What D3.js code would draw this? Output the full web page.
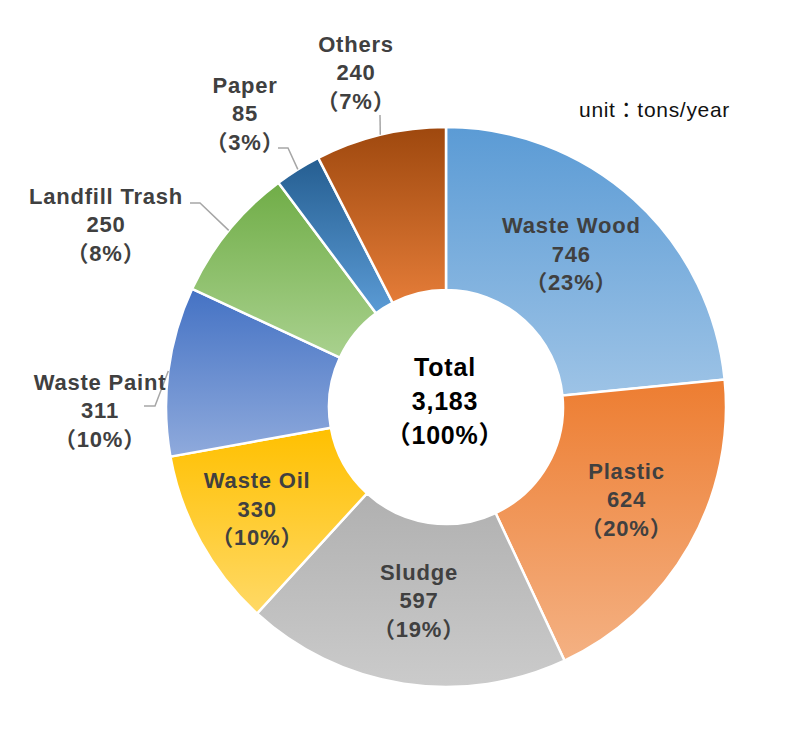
<!DOCTYPE html>
<html lang="en">
<head>
  <meta charset="utf-8" />
  <title>Waste by Type - Donut</title>
  <style>
    body {
      margin: 0;
      background: #ffffff;
    }
    svg {
      display: block;
    }
    .slice {
      stroke: #ffffff;
      stroke-width: 2.5px;
    }
    .leader {
      fill: none;
      stroke: #a6a6a6;
      stroke-width: 1.5px;
    }
    .label text {
      font-family: 'Liberation Sans', Arial, 'Noto Sans CJK JP', sans-serif;
      font-size: 22px;
      font-weight: 700;
      fill: #404040;
      letter-spacing: 0.8px;
      text-anchor: middle;
    }
    .total text {
      font-family: 'Liberation Sans', Arial, 'Noto Sans CJK JP', sans-serif;
      font-size: 25px;
      font-weight: 700;
      fill: #000000;
      letter-spacing: 0.8px;
      text-anchor: middle;
    }
    .unit {
      font-family: 'Liberation Sans', Arial, 'Noto Sans CJK JP', sans-serif;
      font-size: 21px;
      fill: #111111;
      letter-spacing: 0.7px;
    }
  </style>
</head>
<body>
<div id="chart"></div>

<script src="https://d3js.org/d3.v7.min.js"></script>
<script>
// -----------------------------------------------------
// 1) Data (read off the picture)
// -----------------------------------------------------
const categories = ["Waste Wood", "Plastic", "Sludge", "Waste Oil",
                    "Waste Paint", "Landfill Trash", "Paper", "Others"];
const values   = [746, 624, 597, 330, 311, 250, 85, 240];
const percents = [23, 20, 19, 10, 10, 8, 3, 7];
const totalLabel = ["Total", "3,183", "（100%）"];
const unitLabel = "unit：tons/year";

// gradient colours per slice (top -> bottom)
const colorTop    = ["#5b9bd5", "#ed7d31", "#b0b0b0", "#ffc000",
                     "#4472c4", "#70ad47", "#255e91", "#9e480e"];
const colorBottom = ["#9dc3e6", "#f4b183", "#cbcbcb", "#ffd966",
                     "#8faadc", "#a9d18e", "#5b9bd5", "#e47c38"];

// -----------------------------------------------------
// 2) Layout
// -----------------------------------------------------
const W = 812, H = 734;
const cx = 446, cy = 407;
const outerR = 280, innerR = 117;
const lineGap = 28.5;

// inside labels: nudge from the arc centroid
const insideNudge = {
  "Waste Wood": [-8, -6],
  "Plastic":    [8, -6],
  "Sludge":     [3, -3],
  "Waste Oil":  [-15, 6]
};
// outside labels: text centre (middle line baseline) and leader points
const outsideLabels = {
  "Waste Paint":    { at: [100, 418], leader: [[155, 406], [144, 406]] },
  "Landfill Trash": { at: [106, 232], leader: [[200, 203], [190, 203]] },
  "Paper":          { at: [245, 121], leader: [[288, 148], [278, 148]] },
  "Others":         { at: [356, 80],  leader: [[380, 115]] }
};

const svg = d3.select("#chart").append("svg")
    .attr("width", W)
    .attr("height", H);

const defs = svg.append("defs");
categories.forEach((c, i) => {
  const g = defs.append("linearGradient")
      .attr("id", `grad-${i}`)
      .attr("x1", 0).attr("y1", 0)
      .attr("x2", 0).attr("y2", 1);
  g.append("stop").attr("offset", "0%").attr("stop-color", colorTop[i]);
  g.append("stop").attr("offset", "100%").attr("stop-color", colorBottom[i]);
});

const g = svg.append("g")
    .attr("transform", `translate(${cx},${cy})`);

const pie = d3.pie()
    .sort(null)
    .value((d, i) => values[i])
    .startAngle(0)
    .endAngle(2 * Math.PI);

const arcs = pie(categories);

const arc = d3.arc()
    .innerRadius(innerR)
    .outerRadius(outerR);

const edgeArc = d3.arc()
    .innerRadius(outerR)
    .outerRadius(outerR);

// ----------------- Slices -----------------
g.selectAll("path.slice")
  .data(arcs)
  .enter().append("path")
    .attr("class", "slice")
    .attr("d", arc)
    .attr("fill", d => `url(#grad-${d.index})`);

// ----------------- Leader lines -----------------
const line = d3.line();
g.selectAll("path.leader")
  .data(arcs.filter(d => outsideLabels[d.data]))
  .enter().append("path")
    .attr("class", "leader")
    .attr("d", d => {
      const pts = [edgeArc.centroid(d)]
        .concat(outsideLabels[d.data].leader.map(p => [p[0] - cx, p[1] - cy]));
      return line(pts);
    });

// ----------------- Labels -----------------
const labels = g.selectAll("g.label")
  .data(arcs)
  .enter().append("g")
    .attr("class", "label")
    .attr("transform", d => {
      let x, y;
      if (outsideLabels[d.data]) {
        x = outsideLabels[d.data].at[0] - cx;
        y = outsideLabels[d.data].at[1] - cy - 8;
      } else {
        const c = arc.centroid(d);
        const n = insideNudge[d.data] || [0, 0];
        x = c[0] + n[0];
        y = c[1] + n[1];
      }
      return `translate(${x},${y})`;
    });

labels.each(function(d) {
  const rows = [d.data, d3.format(",")(values[d.index]), `（${percents[d.index]}%）`];
  d3.select(this).selectAll("text")
    .data(rows)
    .enter().append("text")
      .attr("y", (r, k) => (k - 1) * lineGap + 8)
      .text(r => r);
});

// ----------------- Centre total -----------------
const total = g.append("g").attr("class", "total");
total.selectAll("text")
  .data(totalLabel)
  .enter().append("text")
    .attr("x", -1)
    .attr("y", (r, k) => (k - 1) * 34 + 3)
    .text(r => r);

// ----------------- Unit -----------------
svg.append("text")
    .attr("class", "unit")
    .attr("x", 579)
    .attr("y", 117)
    .text(unitLabel);
</script>

</body>
</html>
